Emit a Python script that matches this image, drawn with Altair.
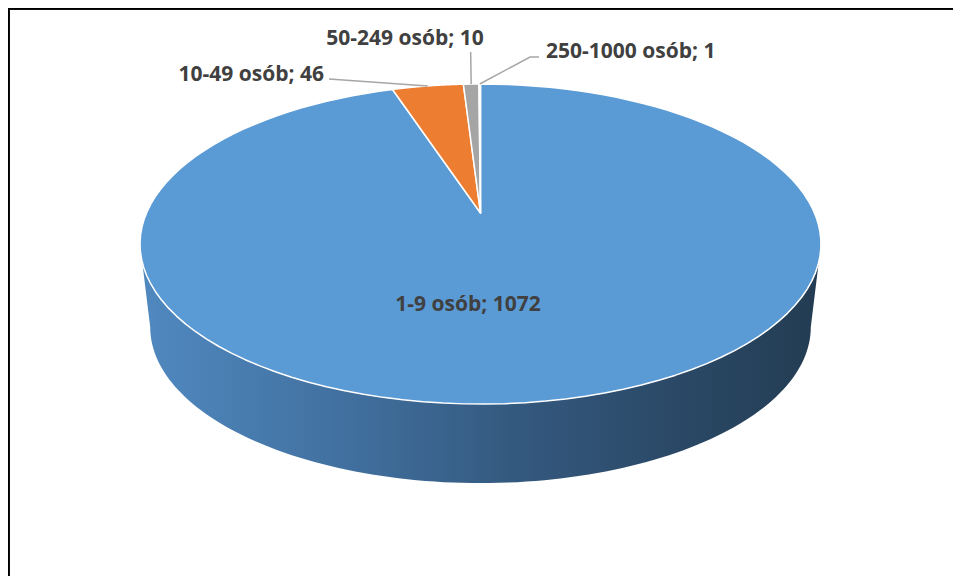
import altair as alt
import pandas as pd

# ---- data -------------------------------------------------------------
categories = ["1-9 osób", "10-49 osób", "50-249 osób", "250-1000 osób"]
values = [1072, 46, 10, 1]
colors = ["#5b9bd5", "#ed7d31", "#a5a5a5", "#ffc000"]

# ---- label layout (pixel offsets; rim = slice mid-point on the rim) -----
label_layout = {
    "1-9 osób": dict(inside=True, dx=-12.5, dy=98, align="center", lx=[], ly=[]),
    "10-49 osób": dict(inside=False, dx=-103.7, dy=-5, align="right",
                       lx=[0, -98.7], ly=[0, -7]),
    "50-249 osób": dict(inside=False, dx=-66.2, dy=-39, align="center",
                        lx=[0, -0.5], ly=[0, -32]),
    "250-1000 osób": dict(inside=False, dx=66.3, dy=-26, align="left",
                          lx=[0, 50.3, 59.3], ly=[0, -27, -27]),
}

W, H = 945, 568
CX, CY = 472.5, 205          # pie centre inside the view (pixels)
A, B, K = 334, 154, 0.194    # top face perspective ellipse
AB, BB, DROP = 324, 150, 84  # bottom face

df = pd.DataFrame({
    "cat": categories,
    "val": values,
    "ord": list(range(len(categories))),
    "label": [f"{c}; {v}" for c, v in zip(categories, values)],
    "inside": [label_layout[c]["inside"] for c in categories],
    "ldx": [label_layout[c]["dx"] for c in categories],
    "ldy": [label_layout[c]["dy"] for c in categories],
    "align": [label_layout[c]["align"] for c in categories],
    "lx": [label_layout[c]["lx"] for c in categories],
    "ly": [label_layout[c]["ly"] for c in categories],
    "li": [list(range(len(label_layout[c]["lx"]))) for c in categories],
})

xs = alt.Scale(domain=[-CX, W - CX], nice=False, zero=False)
ys = alt.Scale(domain=[-(H - CY), CY], nice=False, zero=False)


def X(f):
    return alt.X(f, scale=xs, axis=None)


def Y(f):
    return alt.Y(f, scale=ys, axis=None)


def px(t, a=A):
    return f"{a}*sin({t})/(1+{K}*cos({t}))"


def py(t, b=B, off=0):
    return f"{off}+{b}*cos({t})/(1+{K}*cos({t}))"


base = alt.Chart(df).transform_joinaggregate(
    total="sum(val)"
).transform_window(
    cum="sum(val)", sort=[alt.SortField("ord", order="ascending")], frame=[None, 0]
).transform_calculate(
    a0="2*PI*(datum.cum-datum.val)/datum.total",
    a1="2*PI*datum.cum/datum.total",
    am="PI*(2*datum.cum-datum.val)/datum.total",
)

# ---- 3D side wall -------------------------------------------------------
side = alt.Chart(alt.sequence(0, 242, as_="i")).transform_calculate(
    j="datum.i <= 120 ? datum.i : 241 - datum.i",
    tw=f"acos(-{K})",
).transform_calculate(
    t="datum.tw + (2*PI - 2*datum.tw)*datum.j/120",
).transform_calculate(
    px=f"datum.i <= 120 ? {px('datum.t')} : {px('datum.t', AB)}",
    py=f"datum.i <= 120 ? {py('datum.t')} : {py('datum.t', BB, -DROP)}",
).mark_line(
    interpolate="linear-closed",
    strokeOpacity=0,
    fill=alt.Gradient(
        gradient="linear",
        x1=0, x2=1, y1=0, y2=0,
        stops=[
            alt.GradientStop(offset=0, color="#5089c0"),
            alt.GradientStop(offset=0.3, color="#41709f"),
            alt.GradientStop(offset=0.55, color="#34597f"),
            alt.GradientStop(offset=0.8, color="#2a4865"),
            alt.GradientStop(offset=1, color="#233c52"),
        ],
    ),
).encode(x=X("px:Q"), y=Y("py:Q"), order=alt.Order("i:Q"))

# ---- top face slices ----------------------------------------------------
slices = base.transform_calculate(
    s="sequence(-1, 121)"
).transform_flatten(["s"]).transform_calculate(
    t="datum.a0 + (datum.a1 - datum.a0)*max(datum.s, 0)/120"
).transform_calculate(
    px=f"datum.s < 0 ? 0 : {px('datum.t')}",
    py=f"datum.s < 0 ? 0 : {py('datum.t')}",
).mark_line(
    stroke="white", strokeWidth=1.5, interpolate="linear-closed", strokeJoin="round"
).encode(
    x=X("px:Q"),
    y=Y("py:Q"),
    order=alt.Order("s:Q"),
    fill=alt.Fill("cat:N", scale=alt.Scale(domain=categories, range=colors), legend=None),
    detail="cat:N",
)

# ---- leader lines -------------------------------------------------------
leaders = base.transform_flatten(["lx", "ly", "li"]).transform_calculate(
    rx=px("datum.am"), ry=py("datum.am"),
).transform_calculate(
    px="datum.rx + datum.lx", py="datum.ry - datum.ly",
).mark_line(color="#a6a6a6", strokeWidth=1.5).encode(
    x=X("px:Q"), y=Y("py:Q"), order=alt.Order("li:Q"), detail="cat:N"
)

# ---- labels -------------------------------------------------------------
lab = base.transform_calculate(
    rx=px("datum.am"), ry=py("datum.am"),
).transform_calculate(
    tx="(datum.inside ? 0 : datum.rx) + datum.ldx",
    ty="(datum.inside ? 0 : datum.ry) - datum.ldy",
)
texts = [
    lab.transform_filter(f"datum.align == '{al}'").mark_text(
        align=al, baseline="alphabetic", font="Open Sans", fontSize=21,
        fontWeight="bold", color="#404040",
    ).encode(x=X("tx:Q"), y=Y("ty:Q"), text="label:N")
    for al in ["left", "center", "right"]
]

# ---- frame --------------------------------------------------------------
frame_left = alt.Chart(df).mark_rule(color="black", strokeWidth=2).encode(
    x=alt.value(0.5), y=alt.value(0), y2=alt.value(H)
)
frame_top = alt.Chart(df).mark_rule(color="black", strokeWidth=2).encode(
    x=alt.value(0), x2=alt.value(W), y=alt.value(0.5)
)

chart = alt.layer(side, slices, leaders, *texts, frame_left, frame_top).properties(
    width=W, height=H, padding=0, autosize=alt.AutoSizeParams(type="none"),
    background="white",
).configure_view(strokeWidth=0)

chart.save("out.html", embed_options={"renderer": "svg", "actions": False})
